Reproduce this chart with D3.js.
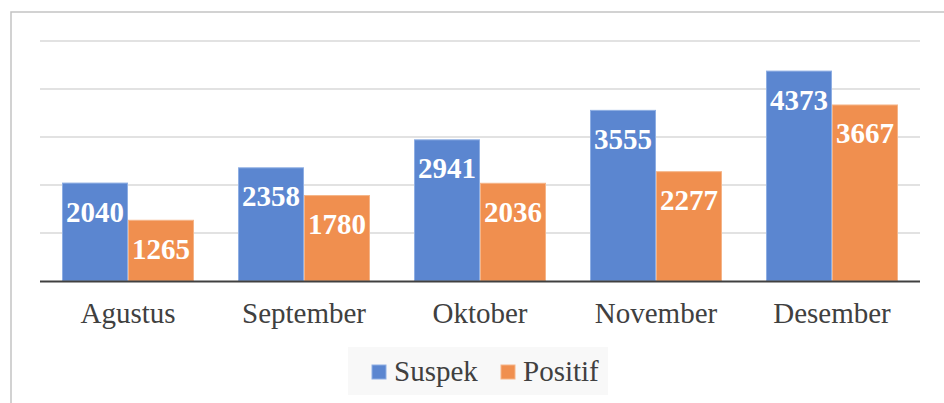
<!DOCTYPE html>
<html><head><meta charset="utf-8">
<script src="https://cdn.jsdelivr.net/npm/d3@7"></script>
<style>body{margin:0;background:#fff}svg{display:block}text{font-family:"Liberation Serif","Times New Roman",serif}</style>
</head><body>
<script>
const categories = ["Agustus","September","Oktober","November","Desember"];
const seriesNames = ["Suspek","Positif"];
const suspek = [2040,2358,2941,3555,4373];
const positif = [1265,1780,2036,2277,3667];
const yTicks = [0,1000,2000,3000,4000,5000];
const colors = ["#5b86d0","#f08f4f"];
const strokes = ["#8eaee3","#f5b487"];

const W=944,H=403;
const svg=d3.select("body").append("svg").attr("width",W).attr("height",H);
svg.append("rect").attr("x",11).attr("y",12).attr("width",W).attr("height",H).attr("fill","#fff").attr("stroke","#c3c3c3").attr("stroke-width",1.5);

const m={l:40,r:24,t:41,b:122};
const x=d3.scaleBand().domain(categories).range([m.l,W-m.r]).paddingInner(0.25).paddingOuter(0.125);
const x1=d3.scaleBand().domain(seriesNames).range([0,x.bandwidth()]);
const y=d3.scaleLinear().domain([0,5000]).range([281,41]);

svg.append("g").selectAll("line").data(yTicks.slice(1)).join("line")
 .attr("x1",m.l).attr("x2",W-m.r).attr("y1",d=>y(d)).attr("y2",d=>y(d))
 .attr("stroke","#d9d9d9").attr("stroke-width",1.3);

const data=[suspek,positif];
const g=svg.append("g");
seriesNames.forEach((s,si)=>{
  const vals=data[si];
  g.selectAll(null).data(categories).join("rect")
   .attr("x",c=>x(c)+x1(s)+0.5).attr("width",x1.bandwidth()-1)
   .attr("y",(c,i)=>y(vals[i])).attr("height",(c,i)=>y(0)-y(vals[i]))
   .attr("fill",colors[si]).attr("stroke",strokes[si]).attr("stroke-width",1);
  g.selectAll(null).data(categories).join("text")
   .attr("x",c=>x(c)+x1(s)+x1.bandwidth()/2)
   .attr("y",(c,i)=>y(vals[i])+38.5)
   .attr("text-anchor","middle").attr("fill","#fff")
   .attr("font-weight","bold").attr("font-size",29)
   .text((c,i)=>vals[i]);
});

svg.append("line").attr("x1",m.l).attr("x2",W-m.r).attr("y1",y(0)+0.5).attr("y2",y(0)+0.5)
 .attr("stroke","#404040").attr("stroke-width",2.2);

const xAxis=svg.append("g").attr("transform",`translate(0,${y(0)})`)
 .call(d3.axisBottom(x).tickSize(0).tickPadding(0));
xAxis.select(".domain").remove();
xAxis.selectAll("text").attr("y",42).attr("dy",null).attr("fill","#404040")
 .attr("font-family",null).attr("font-size",29);

const lg=svg.append("g");
lg.append("rect").attr("x",348).attr("y",347).attr("width",260).attr("height",48).attr("fill","#f8f8f8");
const items=[{x:372},{x:501}];
seriesNames.forEach((s,i)=>{
  lg.append("rect").attr("x",items[i].x).attr("y",365).attr("width",14).attr("height",14)
   .attr("fill",colors[i]).attr("stroke",strokes[i]).attr("stroke-width",1);
  lg.append("text").attr("x",items[i].x+22).attr("y",381).attr("fill","#404040")
   .attr("font-size",29).text(s);
});
</script>
</body></html>
